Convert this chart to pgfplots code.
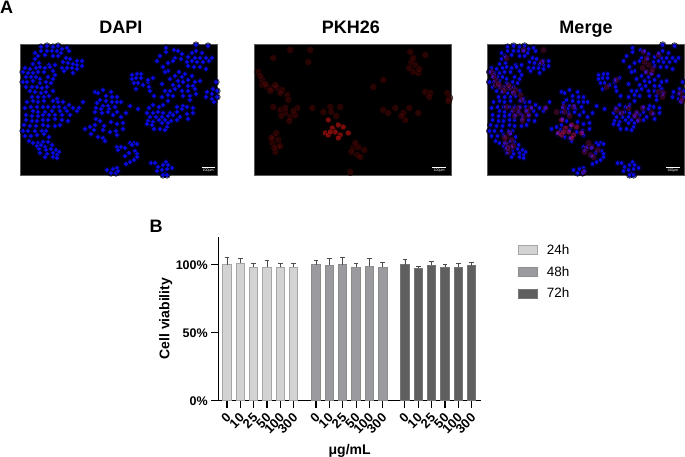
\documentclass[border=0pt]{standalone}
\usepackage{fontspec}
\setmainfont{Liberation Sans}
\usepackage{pgfplots}
\usepackage{pgfplotstable}
\pgfplotsset{compat=1.18}

\definecolor{c24}{HTML}{D3D3D3}
\definecolor{e24}{HTML}{A6A6A6}
\definecolor{c48}{HTML}{9B9B9F}
\definecolor{e48}{HTML}{8C8C8C}
\definecolor{c72}{HTML}{5F5F5F}
\definecolor{e72}{HTML}{757575}

% cell positions (px)
\pgfplotstableread{
x y
41 47
47 46
53 47
58 46
62 49
67 48
69 51
41 51
47 51
52 51
57 51
61 53
35 53
38 56
45 55
53 56
58 56
66 58
70 59
77 61
82 61
63 62
68 63
73 64
77 65
82 66
62 68
67 68
72 68
77 69
64 71
73 73
35 59
33 64
39 63
49 65
55 65
25 68
30 69
36 68
40 67
45 68
50 67
23 72
28 73
33 73
38 72
44 72
53 71
55 75
26 77
31 77
36 77
40 79
48 77
53 79
23 82
27 82
33 81
40 83
46 82
51 83
26 87
32 87
37 87
42 88
47 87
30 91
35 92
41 93
46 92
53 91
32 97
38 97
44 97
49 96
57 99
27 102
33 101
38 102
44 101
53 101
58 102
63 102
69 105
83 102
25 108
31 107
37 107
43 107
48 107
54 107
59 107
65 108
73 108
79 108
95 92
98 93
103 90
111 92
106 96
112 97
117 97
100 100
106 101
112 102
97 103
117 102
103 106
108 106
115 107
96 108
101 109
109 109
196 45
208 46
166 48
174 50
178 51
196 51
192 53
202 53
166 52
182 54
160 56
175 58
181 59
188 57
195 58
200 58
206 58
212 58
157 61
173 61
187 62
192 61
197 62
203 62
209 61
168 63
188 66
194 67
200 67
206 69
163 67
168 71
165 72
179 72
185 74
192 76
175 76
182 77
170 79
188 80
178 81
183 82
195 82
200 81
173 85
179 86
188 86
193 86
162 84
165 91
170 91
175 89
182 91
188 91
195 89
173 96
168 95
183 96
190 96
196 94
162 97
154 96
190 100
168 101
163 105
159 107
153 105
149 108
177 107
183 106
187 107
193 108
182 109
216 82
213 89
207 92
212 94
217 91
206 97
212 99
217 97
214 102
132 75
137 74
141 74
132 79
136 78
141 78
134 83
138 83
143 85
148 82
153 78
148 80
136 89
149 87
150 91
121 102
130 106
138 109
33 111
38 112
45 112
52 111
60 111
67 111
77 111
26 115
32 116
38 116
43 115
49 115
55 115
62 115
70 115
26 120
32 121
37 121
43 120
48 120
55 119
62 120
68 121
24 125
30 126
36 126
43 125
48 126
55 126
60 125
23 131
28 131
35 131
42 131
46 131
25 136
31 136
37 135
44 134
49 137
29 141
33 143
38 143
43 142
48 142
37 146
41 145
45 147
52 145
39 149
46 150
51 149
56 150
59 152
40 153
47 154
53 153
57 155
45 157
53 157
57 158
95 112
102 113
108 112
117 112
113 115
96 119
100 121
111 122
117 124
95 125
104 126
90 127
85 129
94 130
103 130
110 132
116 131
91 134
117 135
98 137
103 138
105 141
117 147
118 150
107 170
113 169
117 168
111 173
116 173
118 171
121 117
126 113
123 123
123 129
147 113
153 113
158 112
163 113
170 113
177 112
187 114
193 113
150 117
156 117
162 117
168 116
173 115
180 117
148 121
153 122
159 120
165 120
171 121
177 120
188 119
147 124
152 125
162 123
168 123
167 127
154 129
160 129
165 130
130 143
134 143
137 144
121 147
125 148
132 145
129 153
135 151
137 154
125 156
137 157
134 160
130 162
126 164
151 163
155 163
166 162
163 165
168 165
158 167
172 168
167 169
162 170
157 171
165 174
163 175
167 175
}\bluepts

% PKH26 signal, dim patches
\pgfplotstableread{
x y
29 85
34 87
39 88
44 88
49 90
25 72
29 80
54 95
55 100
57 117
62 115
52 113
64 108
47 110
40 107
40 137
45 140
39 143
44 147
42 152
79 108
107 107
97 107
120 148
125 147
124 155
127 157
117 172
170 113
172 120
162 108
150 110
185 113
180 72
185 73
182 65
177 52
192 55
192 92
197 93
214 93
216 98
140 87
150 80
57 50
77 50
40 58
75 62
32 84
37 91
42 85
47 93
27 76
52 108
60 111
56 121
48 116
43 133
38 138
47 146
41 148
98 112
90 112
103 116
118 152
122 143
131 150
176 68
186 69
178 62
196 97
168 116
176 108
155 113
180 58
215 101
}\reddim

% PKH26 signal, bright patches
\pgfplotstableread{
x y
95 120
99 128
92 133
95 135
105 125
110 127
102 132
107 135
115 133
105 138
97 132
}\redbright

\pgfplotsset{
  panel/.style={
    at={(#1pt,282pt)},anchor=south west,scale only axis,width=197pt,height=131pt,
    xmin=20.7,xmax=217.7,ymin=44,ymax=175,y dir=reverse,ticks=none,
    axis line style={draw=gray!70!black,line width=.6pt},
    axis background/.style={fill=black},clip marker paths=false,
  },
  blue halo/.style={only marks,mark=*,mark size=3.3pt,
    mark options={draw=none,fill={rgb,255:red,0;green,0;blue,170},fill opacity=.45}},
  blue cells/.style={only marks,mark=*,mark size=2.2pt,
    mark options={draw=none,fill={rgb,255:red,12;green,12;blue,250},fill opacity=.9}},
  dim red/.style={only marks,mark=*,mark size=3.6pt,
    mark options={draw=none,fill={rgb,255:red,95;green,8;blue,8},fill opacity=.45}},
  bright red/.style={only marks,mark=*,mark size=3pt,
    mark options={draw=none,fill={rgb,255:red,190;green,18;blue,18},fill opacity=.65}},
  dim tint/.style={only marks,mark=*,mark size=3.4pt,
    mark options={draw=none,fill={rgb,255:red,175;green,20;blue,110},fill opacity=.28}},
  bright tint/.style={only marks,mark=*,mark size=3pt,
    mark options={draw=none,fill={rgb,255:red,235;green,20;blue,120},fill opacity=.42}},
  scale bar/.style={white,line width=.7pt,mark=none},
  grp/.style n args={2}{fill=#1,draw=#2,line width=1pt,
    error bars/.cd,y dir=plus,y explicit,
    error bar style={draw=black!70,line width=.8pt},
    error mark options={rotate=90,draw=black!70,mark size=2.4pt,line width=.8pt}},
}

\begin{document}
\begin{tikzpicture}[x=1pt,y=1pt]
\path[use as bounding box] (0,0) rectangle (685,457);

\begin{axis}[panel=20.7]
\addplot[blue halo] table {\bluepts};
\addplot[blue cells] table {\bluepts};
\addplot[scale bar] coordinates {(201.5,167) (215,167)};
\node[white,font=\fontsize{3.6}{4}\selectfont] at (axis cs:208.2,171) {100μm};
\end{axis}

\begin{axis}[panel=254]
\addplot[dim red] table {\reddim};
\addplot[bright red] table {\redbright};
\addplot[scale bar] coordinates {(199,167) (212.5,167)};
\node[white,font=\fontsize{3.6}{4}\selectfont] at (axis cs:205.8,171) {100μm};
\end{axis}

\begin{axis}[panel=487.3]
\addplot[blue halo] table {\bluepts};
\addplot[blue cells] table {\bluepts};
\addplot[dim tint] table {\reddim};
\addplot[bright tint] table {\redbright};
\addplot[scale bar] coordinates {(199.5,167) (213,167)};
\node[white,font=\fontsize{3.6}{4}\selectfont] at (axis cs:206.3,171) {100μm};
\end{axis}

\node[font=\bfseries\fontsize{18}{20}\selectfont,anchor=base] at (121,423) {DAPI};
\node[font=\bfseries\fontsize{18}{20}\selectfont,anchor=base] at (351,423) {PKH26};
\node[font=\bfseries\fontsize{18}{20}\selectfont,anchor=base] at (586,423) {Merge};
\node[font=\bfseries\fontsize{18}{20}\selectfont,anchor=base west,inner sep=0pt] at (0,443) {A};
\node[font=\bfseries\fontsize{18}{20}\selectfont,anchor=base west,inner sep=0pt] at (149.5,224) {B};

\begin{axis}[
  at={(218.3pt,56.3pt)},anchor=south west,scale only axis,width=262.7pt,height=164pt,
  axis lines=left,axis line style={-,line width=1.3pt},
  xmin=-0.65,xmax=19.03,ymin=0,ymax=120.6,
  ybar,bar width=8.5pt,bar shift=0pt,
  ytick={0,50,100},yticklabels={0\%,50\%,100\%},
  xtick={0,1,2,3,4,5,6.67,7.67,8.67,9.67,10.67,11.67,13.33,14.33,15.33,16.33,17.33,18.33},
  xticklabels={0,10,25,50,100,300,0,10,25,50,100,300,0,10,25,50,100,300},
  major tick length=7pt,tick align=outside,tick style={black,line width=1.1pt},
  tick label style={font=\bfseries\fontsize{12.5}{14}\selectfont},
  x tick label style={font=\bfseries\fontsize{13}{14}\selectfont,xshift=-1.7pt,yshift=-3pt,rotate=45,anchor=north east,inner sep=1pt},
  ylabel={Cell viability},xlabel={μg/mL},
  label style={font=\bfseries\fontsize{14}{15}\selectfont},
  xlabel style={at={(axis description cs:0.5,0)},anchor=base,yshift=-54pt},
  ylabel style={at={(axis description cs:0,0.5)},anchor=base,yshift=49pt},
  legend style={at={(1.14,0.965)},anchor=north west,draw=none,fill=none,inner sep=0pt,
    row sep=6.5pt,font=\fontsize{13.5}{15}\selectfont,
    /tikz/every odd column/.append style={column sep=7pt}},
  legend cell align=left,
  legend image code/.code={\draw[#1,line width=1pt] (0pt,-4.5pt) rectangle (19pt,4.5pt);},
]
\addplot[grp={c24}{e24}] coordinates {
 (0,100) +- (0,5.4) (1,101) +- (0,3.9) (2,98) +- (0,2.7)
 (3,98.3) +- (0,4.7) (4,98) +- (0,3) (5,98) +- (0,3) };
\addplot[grp={c48}{e48}] coordinates {
 (6.67,100) +- (0,3) (7.67,99.7) +- (0,5) (8.67,100) +- (0,5.1)
 (9.67,98) +- (0,3) (10.67,99) +- (0,5.7) (11.67,98.3) +- (0,3.4) };
\addplot[grp={c72}{e72}] coordinates {
 (13.33,100) +- (0,3.7) (14.33,97.5) +- (0,1) (15.33,99.7) +- (0,2.5)
 (16.33,98.2) +- (0,2.3) (17.33,98.3) +- (0,2.7) (18.33,99.2) +- (0,2.5) };
\legend{24h,48h,72h}
\end{axis}
\end{tikzpicture}
\end{document}
